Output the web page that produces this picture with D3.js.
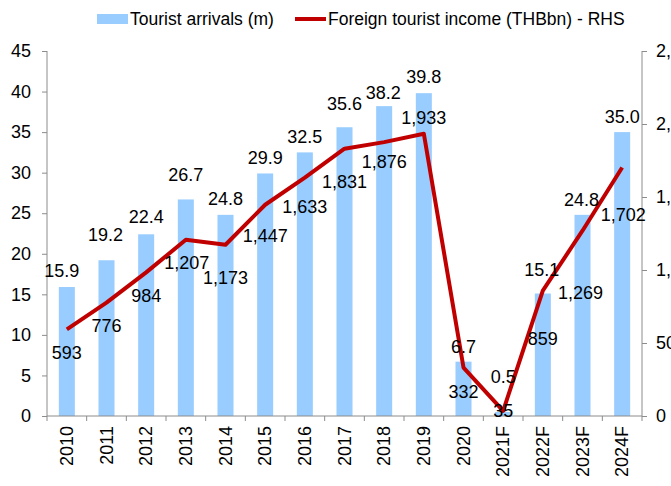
<!DOCTYPE html>
<html>
<head>
<meta charset="utf-8">
<script src="https://cdn.jsdelivr.net/npm/d3@7"></script>
<style>
  body { margin: 0; background: #fff; }
  svg text { font-family: Arial, "Liberation Sans", sans-serif; fill: #000; }
</style>
</head>
<body>
<script>
// data
var years = ["2010", "2011", "2012", "2013", "2014", "2015", "2016", "2017", "2018", "2019", "2020", "2021F", "2022F", "2023F", "2024F"];
var arrivals = [15.9, 19.2, 22.4, 26.7, 24.8, 29.9, 32.5, 35.6, 38.2, 39.8, 6.7, 0.5, 15.1, 24.8, 35.0];
var income = [593, 776, 984, 1207, 1173, 1447, 1633, 1831, 1876, 1933, 332, 35, 859, 1269, 1702];
var leftTicks = [0, 5, 10, 15, 20, 25, 30, 35, 40, 45];
var rightTicks = [0, 500, 1000, 1500, 2000, 2500];

var width = 671, height = 486;
var margin = {left: 47, right: 29, top: 51, bottom: 70};

// hand placed label nudges (the original labels were dragged around)
var arrivalLabelDy = [-16, -26, -18, -25, -16, -16, -16, -24, -13, -16.5, -15, -35, -23.5, -15, -15.5];
var arrivalLabelDx = [-5, -1, 0, 0, 0, 0, 0, 0, -1, 0, 0, 0, -1, -1, 0];
var incomeLabelDy = [23.5, 23, 23, 23, 33, 31, 29, 33, 20, -16, 24, 0, 48, 62, 47.5];
var incomeLabelDx = [0, 0, 0, 1, 0, 0, 0, 0, 0, 0, 0, 0, 0, -2, 1];

var svg = d3.select("body").append("svg")
    .attr("width", width)
    .attr("height", height);

var x = d3.scaleBand()
    .domain(years)
    .range([margin.left, width - margin.right]);

var yL = d3.scaleLinear().domain([0, 45]).range([height - margin.bottom, margin.top]);
var yR = d3.scaleLinear().domain([0, 2500]).range([height - margin.bottom, margin.top]);

var barW = 16;
var axisColor = "#8c8c8c";
var fmt = d3.format(",");

// bars
svg.selectAll("rect.bar")
    .data(arrivals)
    .enter().append("rect")
    .attr("class", "bar")
    .attr("x", function (d, i) { return x(years[i]) + x.bandwidth() / 2 - barW / 2; })
    .attr("y", function (d) { return yL(d); })
    .attr("width", barW)
    .attr("height", function (d) { return yL(0) - yL(d); })
    .attr("fill", "#99ccff");

// left axis
var gL = svg.append("g")
    .attr("transform", "translate(" + margin.left + ",0)")
    .call(d3.axisLeft(yL).tickValues(leftTicks).tickSize(5).tickPadding(11));

// right axis
var gR = svg.append("g")
    .attr("transform", "translate(" + (width - margin.right) + ",0)")
    .call(d3.axisRight(yR).tickValues(rightTicks).tickFormat(fmt).tickSize(5).tickPadding(9));

// x axis, ticks between categories
var gX = svg.append("g")
    .attr("transform", "translate(0," + (height - margin.bottom) + ")")
    .call(d3.axisBottom(x).tickSize(0).tickPadding(10));

gX.selectAll(".tick text")
    .attr("transform", "rotate(-90)")
    .attr("text-anchor", "end")
    .attr("x", -10)
    .attr("y", 0)
    .attr("dy", "0.35em");

var bounds = years.map(function (y) { return x(y); }).concat([x.range()[1]]);
gX.selectAll("line.sep")
    .data(bounds)
    .enter().append("line")
    .attr("class", "sep")
    .attr("x1", function (d) { return d; })
    .attr("x2", function (d) { return d; })
    .attr("y1", 0)
    .attr("y2", 5)
    .attr("stroke", axisColor);

[gL, gR, gX].forEach(function (g) {
    g.select(".domain").attr("stroke", axisColor);
    g.selectAll(".tick line").attr("stroke", axisColor);
    g.selectAll("text").style("font-size", "18px").attr("fill", "#000");
});
gL.select(".domain").attr("d", "M0," + yL(45) + "V" + yL(0));
gR.select(".domain").attr("d", "M0," + yR(2500) + "V" + yR(0));
gX.select(".domain").attr("d", "M" + x.range()[0] + ",0H" + x.range()[1]);

// income line
var line = d3.line()
    .x(function (d, i) { return x(years[i]) + x.bandwidth() / 2; })
    .y(function (d) { return yR(d); });

svg.append("path")
    .datum(income)
    .attr("d", line)
    .attr("fill", "none")
    .attr("stroke", "#c00000")
    .attr("stroke-width", 4)
    .attr("stroke-linejoin", "round");

// labels
svg.selectAll("text.barlab")
    .data(arrivals)
    .enter().append("text")
    .attr("class", "barlab")
    .attr("x", function (d, i) { return x(years[i]) + x.bandwidth() / 2 + arrivalLabelDx[i]; })
    .attr("y", function (d, i) { return yL(d) + arrivalLabelDy[i]; })
    .attr("dy", "0.35em")
    .attr("text-anchor", "middle")
    .style("font-size", "18px")
    .text(function (d) { return d.toFixed(1); });

svg.selectAll("text.linelab")
    .data(income)
    .enter().append("text")
    .attr("class", "linelab")
    .attr("x", function (d, i) { return x(years[i]) + x.bandwidth() / 2 + incomeLabelDx[i]; })
    .attr("y", function (d, i) { return yR(d) + incomeLabelDy[i]; })
    .attr("dy", "0.35em")
    .attr("text-anchor", "middle")
    .style("font-size", "18px")
    .text(function (d) { return fmt(d); });

// legend
var leg = svg.append("g");
leg.append("rect")
    .attr("x", 97).attr("y", 14)
    .attr("width", 31).attr("height", 10)
    .attr("fill", "#99ccff");
leg.append("text")
    .attr("x", 130).attr("y", 25)
    .style("font-size", "17.5px")
    .text("Tourist arrivals (m)");
leg.append("line")
    .attr("x1", 295).attr("x2", 326)
    .attr("y1", 19).attr("y2", 19)
    .attr("stroke", "#c00000")
    .attr("stroke-width", 4);
leg.append("text")
    .attr("x", 328).attr("y", 25)
    .style("font-size", "17.5px")
    .text("Foreign tourist income (THBbn) - RHS");
</script>
</body>
</html>
